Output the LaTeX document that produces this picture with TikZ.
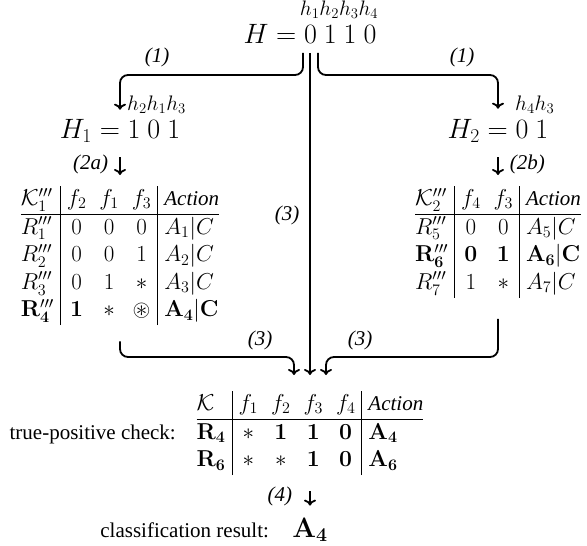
\RequirePackage{fix-cm}
\documentclass[tikz,border=0pt]{standalone}
\usepackage{amsmath,amssymb}
\usepackage[no-math]{fontspec}
\setmainfont{Liberation Serif}
\usetikzlibrary{arrows.meta,calc}
\newcommand\fsT{\fontsize{21}{25}\selectfont}
\newcommand\fsB{\fontsize{28}{34}\selectfont}
\newcommand\fsM{\fontsize{23}{27.6}\selectfont}
\newcommand\actn{\text{\fsT\itshape Action}}
\begin{document}
\begin{tikzpicture}[x=1pt,y=-1pt]
\tikzset{
  arr/.style={line width=1.8pt,-{To[length=6pt,width=12pt]}},
  lbl/.style={font=\fsT\itshape,inner sep=0pt},
  txt/.style={font=\fsT,inner sep=0pt},
  mlbl/.style={font=\fsT,inner sep=0pt},
  big/.style={font=\fsB,inner sep=0pt},
  tab/.style={font=\fsM,inner sep=0pt},
}
\useasboundingbox (0,0) rectangle (587,546);
\setlength{\arrayrulewidth}{1pt}
% top
\node[mlbl] (hl) at (339,10) {$h_1h_2h_3h_4$};
\node[big] (Heq) at (310,34) {$H = 0\ 1\ 1\ 0$};
\node[big,anchor=base] (H1) at (120,138) {$H_1 = 1\ 0\ 1$};
\node[big,anchor=base] (H2) at (498,138) {$H_2 = 0\ 1$};
\node[mlbl,anchor=west] (hA) at (127,105) {$h_2h_1h_3$};
\node[mlbl,anchor=west] (hB) at (515,105) {$h_4h_3$};
% tables
\node[tab,anchor=north] (L) at (120,186) {\setlength{\arraycolsep}{6.5pt}$\begin{array}{@{}l|ccc|l@{}}
\mathcal{K}'''_1 & f_2 & f_1 & f_3 & \actn\\ \hline
R'''_1 & 0 & 0 & 0 & A_1|C\\
R'''_2 & 0 & 0 & 1 & A_2|C\\
R'''_3 & 0 & 1 & * & A_3|C\\
\mathbf{R}'''_{\mathbf{4}} & \mathbf{1} & * & \circledast & \mathbf{A_4|C}
\end{array}$};
\node[tab,anchor=north] (R) at (498,186) {\setlength{\arraycolsep}{6.5pt}$\begin{array}{@{}l|cc|l@{}}
\mathcal{K}'''_2 & f_4 & f_3 & \actn\\ \hline
R'''_5 & 0 & 0 & A_5|C\\
\mathbf{R}'''_{\mathbf{6}} & \mathbf{0} & \mathbf{1} & \mathbf{A_6|C}\\
R'''_7 & 1 & * & A_7|C
\end{array}$};
\node[tab,anchor=north] (K) at (310,391) {\setlength{\arraycolsep}{6.5pt}$\begin{array}{@{}l|cccc|l@{}}
\mathcal{K} & f_1 & f_2 & f_3 & f_4 & \actn\\ \hline
\mathbf{R_4} & * & \mathbf{1} & \mathbf{1} & \mathbf{0} & \mathbf{A_4}\\
\mathbf{R_6} & * & * & \mathbf{1} & \mathbf{0} & \mathbf{A_6}
\end{array}$};
\node[txt,anchor=base east] (tp) at (176,439) {true-positive check:};
\coordinate (res) at (0,537);
\node[big,anchor=base] (A4) at (K.south |- res) {$\mathbf{A_4}$};
\node[txt,anchor=base east] (cr) at ([xshift=-23pt]A4.base west) {classification result:};
% labels
\node[lbl] (l1a) at (157,57) {(1)};
\node[lbl] (l1b) at (462,57) {(1)};
\node[lbl] (l3m) at (287,215) {(3)};
\node[lbl] (l3a) at (260,340) {(3)};
\node[lbl] (l3b) at (360,340) {(3)};
% connectors
\coordinate (lv1) at (0,75);
\coordinate (lv3) at (0,357);
\draw[arr,rounded corners=8pt,shorten >=9pt] ([xshift=-7pt,yshift=-9pt]Heq.south) -- ([xshift=-7pt]Heq.south |- lv1) -| (H1.north);
\draw[arr,rounded corners=8pt,shorten >=10pt] ([xshift=8pt,yshift=-9pt]Heq.south) -- ([xshift=8pt]Heq.south |- lv1) -| (H2.north);
\draw[arr,shorten <=9pt,shorten >=16pt] (Heq.south) -- (Heq.south |- K.north);
\draw[arr,rounded corners=8pt,shorten >=16pt] ([yshift=-16pt]L.south) -- (L.south |- lv3) -| ([xshift=-16pt]Heq.south |- K.north);
\draw[arr,rounded corners=8pt,shorten >=16pt] ([yshift=-21pt]R.south) -- (R.south |- lv3) -| ([xshift=16pt]Heq.south |- K.north);
\draw[arr,shorten <=15pt,shorten >=11pt] (H1.south) -- (H1.south |- L.north) node[midway,lbl,left=11pt] (l2a) {(2a)};
\draw[arr,shorten <=15pt,shorten >=11pt] (H2.south) -- (H2.south |- R.north) node[midway,lbl,right=11pt] (l2b) {(2b)};
\draw[arr,shorten <=16pt,shorten >=12pt] (K.south) -- (A4.north) node[midway,lbl,left=17pt] (l4) {(4)};
\end{tikzpicture}
\end{document}
